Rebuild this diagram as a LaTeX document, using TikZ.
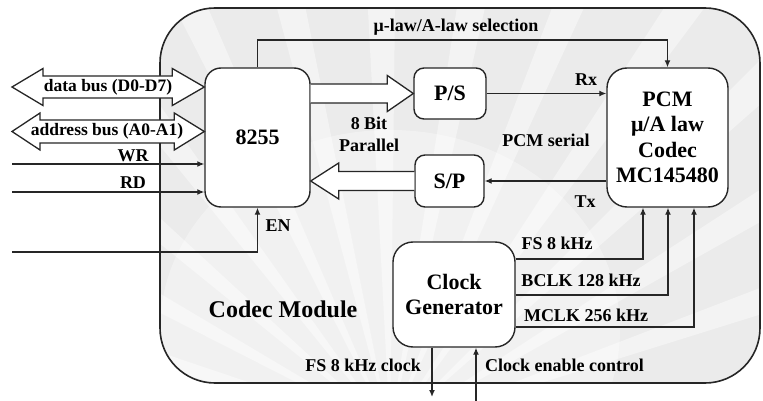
\documentclass[tikz,border=0pt]{standalone}
\usepackage{fontspec}
\setmainfont{LiberationSerif}[Extension=.ttf,UprightFont=*-Regular,BoldFont=*-Bold]
\usetikzlibrary{arrows.meta,calc}
\begin{document}
\begin{tikzpicture}[x=1pt,y=-1pt,
  line/.style={draw=black!85,line width=1.3pt},
  arr/.style={line,-{Latex[length=7pt,width=6pt]}},
  blk/.style={draw=black!85,line width=1.4pt,fill=white,rounded corners=#1,
    inner sep=0pt,align=center,font=\fontsize{22}{25.5}\selectfont\bfseries},
  blk/.default=14pt,
  lbl/.style={font=\fontsize{18}{22}\selectfont\bfseries,inner sep=0pt,align=center},
  buslbl/.style={font=\fontsize{17.5}{20}\selectfont\bfseries,inner sep=0pt},
  fat/.style={draw=black!85,line width=1.3pt,fill=white,line join=miter}]
\useasboundingbox (0,0) rectangle (763,401);

% module background: light grey with a soft burst of lighter rays
\begin{scope}
  \clip[rounded corners=55pt] (160,8) rectangle (760,383);
  \fill[black!8] (160,8) rectangle (760,383);
  \foreach \a in {195,207,...,345}
    \fill[white,opacity=0.4] (390,430) -- ++(\a:700) -- ++(\a+90:45) -- cycle;
  \fill[white,opacity=0.35] (390,330) ellipse (230 and 200);
\end{scope}

% module outline
\node[draw=black!85,line width=1.6pt,rounded corners=55pt,
  minimum width=600pt,minimum height=375pt,inner sep=0pt] (mod) at (460,195.5) {};

% functional blocks
\node[blk=16pt,minimum width=105pt,minimum height=139pt] (ppi) at (257.5,137.5) {8255};
\node[blk=10pt,minimum width=72pt,minimum height=51pt] (ps) at (450,93.5) {P/S};
\node[blk=10pt,minimum width=69pt,minimum height=52pt] (sp) at (449.5,181) {S/P};
\node[blk=20pt,minimum width=121pt,minimum height=139pt] (pcm) at (667.5,137.5)
  {PCM\\μ/A law\\Codec\\MC145480};
\node[blk=20pt,minimum width=122pt,minimum height=105pt] (clk) at (454,294.5)
  {Clock\\Generator};

% external bus interface (double-headed wide arrows)
\coordinate (dbL) at (12,87);
\coordinate (dbR) at (ppi.west |- dbL);
\draw[fat] (dbL) -- ([shift={(31,-18.5)}]dbL) -- ([shift={(31,-11)}]dbL)
  -- ([shift={(-32,-11)}]dbR) -- ([shift={(-32,-18.5)}]dbR) -- (dbR)
  -- ([shift={(-32,18.5)}]dbR) -- ([shift={(-32,11)}]dbR)
  -- ([shift={(31,11)}]dbL) -- ([shift={(31,18.5)}]dbL) -- cycle;
\node[buslbl] (dbT) at (108,87) {data bus (D0-D7)};

\coordinate (abL) at (12,131.5);
\coordinate (abR) at (ppi.west |- abL);
\draw[fat] (abL) -- ([shift={(28,-18.5)}]abL) -- ([shift={(28,-11.5)}]abL)
  -- ([shift={(-30,-11.5)}]abR) -- ([shift={(-30,-18.5)}]abR) -- (abR)
  -- ([shift={(-30,18.5)}]abR) -- ([shift={(-30,11.5)}]abR)
  -- ([shift={(28,11.5)}]abL) -- ([shift={(28,18.5)}]abL) -- cycle;
\node[buslbl] (abT) at (107,131.5) {address bus (A0-A1)};

% control inputs
\coordinate (wrS) at (12,164);
\coordinate (rdS) at (12,192);
\coordinate (enS) at (12,252);
\draw[arr] (wrS) -- (wrS -| ppi.west);
\draw[arr] (rdS) -- (rdS -| ppi.west);
\draw[arr] (enS) -| (ppi.south);
\node[lbl] (wrT) at (133,156) {WR};
\node[lbl] (rdT) at (133,183) {RD};
\node[lbl] (enT) at (278,226) {EN};

% 8-bit parallel paths
\coordinate (psA) at (ppi.east |- ps.west);
\path[fat] ([shift={(0,-9.5)}]psA) -- ([shift={(-26,-9.5)}]ps.west)
  -- ([shift={(-26,-18)}]ps.west) -- (ps.west) -- ([shift={(-26,18)}]ps.west)
  -- ([shift={(-26,9.5)}]ps.west) -- ([shift={(0,9.5)}]psA);
\coordinate (spA) at (sp.west);
\coordinate (spT) at (ppi.east |- sp.west);
\path[fat] ([shift={(0,-9.5)}]spA) -- ([shift={(28,-9.5)}]spT)
  -- ([shift={(28,-18)}]spT) -- (spT) -- ([shift={(28,18)}]spT)
  -- ([shift={(28,9.5)}]spT) -- ([shift={(0,9.5)}]spA);
\node[lbl] (parT) at (369,134) {8 Bit\\Parallel};

% law selection
\coordinate (selRow) at (0,40);
\draw[arr] (ppi.north) -- (ppi.north |- selRow) -| (pcm.north);
\node[lbl] (selT) at (456,27) {μ-law/A-law selection};

% serial PCM
\draw[arr] (ps.east) -- (ps.east -| pcm.west);
\draw[arr] (pcm.west |- sp.east) -- (sp.east);
\node[lbl] (rxT) at (586,80) {Rx};
\node[lbl] (txT) at (585,202) {Tx};
\node[lbl] (serT) at (546,140) {PCM serial};

% clocks to the codec
\coordinate (fsRow) at (0,259);
\coordinate (bcRow) at (0,295);
\coordinate (mcRow) at (0,327);
\coordinate (fsCol) at (643,0);
\coordinate (bcCol) at (668,0);
\coordinate (mcCol) at (694,0);
\draw[arr] (clk.east |- fsRow) -| (fsCol |- pcm.south);
\draw[arr] (clk.east |- bcRow) -| (bcCol |- pcm.south);
\draw[arr] (clk.east |- mcRow) -| (mcCol |- pcm.south);
\node[lbl] (fsT) at (557,243) {FS 8 kHz};
\node[lbl] (bcT) at (581,280) {BCLK 128 kHz};
\node[lbl] (mcT) at (586,315) {MCLK 256 kHz};

% clock generator I/O
\coordinate (fsOut) at (432,397);
\coordinate (ceIn) at (476,401);
\draw[arr] (clk.south -| fsOut) -- (fsOut);
\draw[arr] (ceIn) -- (ceIn |- clk.south);
\node[lbl] (fsoT) at (363,365) {FS 8 kHz clock};
\node[lbl,anchor=west] (ceT) at (485,365) {Clock enable control};

\node[font=\fontsize{24}{26}\selectfont\bfseries] (modT) at (283,309) {Codec Module};
\end{tikzpicture}
\end{document}
